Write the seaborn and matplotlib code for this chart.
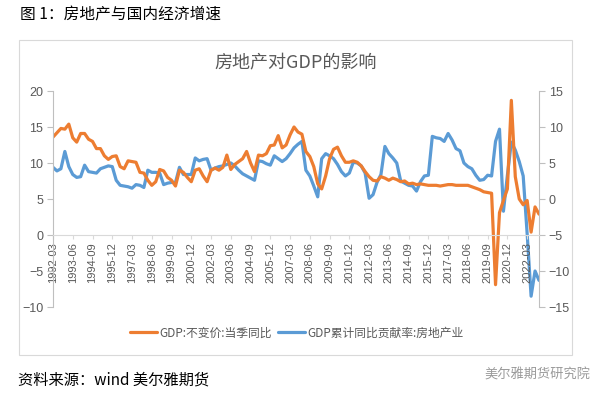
import matplotlib
matplotlib.use("Agg")
import matplotlib.pyplot as plt
from matplotlib.lines import Line2D
from matplotlib.patches import Rectangle
import seaborn as sns
import pandas as pd

# quarters 1992-03 .. 2022-12
quarters = [str(p.end_time.strftime("%Y-%m")) for p in pd.period_range("1992Q1", "2022Q4", freq="Q")]

# GDP:不变价:当季同比 (left axis, %)
gdp_yoy = [
    13.6, 14.2, 14.8, 14.7, 15.4, 13.5, 12.9, 14.1,   # 1992-1993
    14.1, 13.3, 13.0, 12.0, 12.0, 11.0, 10.5, 10.9,   # 1994-1995
    11.0, 9.5, 9.2, 10.3, 10.2, 10.1, 8.7, 8.6,       # 1996-1997
    7.6, 6.9, 7.4, 9.1, 8.9, 8.0, 7.6, 6.8,           # 1998-1999
    9.0, 8.7, 8.0, 7.4, 9.0, 9.2, 8.2, 7.4,           # 2000-2001
    9.0, 9.3, 9.0, 9.4, 11.1, 9.1, 9.8, 10.2,         # 2002-2003
    10.6, 11.6, 10.0, 8.8, 11.1, 11.0, 11.3, 12.4,    # 2004-2005
    12.5, 13.8, 12.1, 12.5, 13.9, 15.0, 14.3, 14.0,   # 2006-2007
    11.6, 10.9, 9.5, 7.1, 6.4, 8.2, 10.6, 11.9,       # 2008-2009
    12.2, 11.0, 10.1, 10.1, 10.3, 10.1, 9.6, 8.8,     # 2010-2011
    8.1, 7.6, 7.5, 8.1, 7.9, 7.6, 7.9, 7.7,           # 2012-2013
    7.4, 7.5, 7.1, 7.2, 7.0, 7.1, 7.0, 6.9,           # 2014-2015
    6.9, 6.9, 6.8, 6.9, 7.0, 7.0, 6.9, 6.9,           # 2016-2017
    6.9, 6.9, 6.7, 6.5, 6.3, 6.0, 5.9, 5.8,           # 2018-2019
    -6.9, 3.1, 4.8, 6.4, 18.7, 8.1, 5.0, 4.2,         # 2020-2021
    4.8, 0.4, 3.9, 2.9,                               # 2022
]

# GDP累计同比贡献率:房地产业 (right axis, %)
re_contrib = [
    4.4, 3.9, 4.2, 6.6, 4.5, 3.4, 3.0, 3.1,
    4.7, 3.8, 3.7, 3.6, 4.2, 4.4, 4.6, 4.5,
    2.6, 1.9, 1.8, 1.7, 1.5, 2.0, 1.9, 1.6,
    4.0, 3.7, 3.7, 3.6, 2.0, 2.2, 2.3, 2.3,
    4.4, 3.4, 3.4, 3.4, 5.7, 5.3, 5.5, 5.6,
    4.0, 4.3, 4.5, 4.6, 4.8, 5.0, 4.6, 4.0,
    3.5, 3.2, 2.9, 2.6, 5.3, 5.2, 4.9, 4.7,
    6.0, 5.6, 5.2, 5.6, 6.3, 7.1, 7.6, 8.0,
    4.0, 3.2, 1.8, 0.3, 5.6, 6.3, 6.0, 5.6,
    4.8, 3.8, 3.2, 3.6, 5.1, 5.0, 4.6, 3.6,
    0.1, 0.6, 2.3, 3.4, 7.3, 6.3, 5.7, 5.0,
    2.5, 2.2, 1.9, 1.8, 1.1, 2.4, 3.2, 3.3,
    8.7, 8.5, 8.4, 8.0, 9.1, 8.2, 7.0, 6.7,
    5.0, 4.5, 4.2, 3.3, 2.6, 2.7, 3.3, 3.2,
    8.0, 9.7, -1.7, 3.3, 7.9, 6.8, 5.2, 3.2,
    -4.8, -13.5, -10.0, -11.3,
]

label_gdp = "GDP:不变价:当季同比"
label_re = "GDP累计同比贡献率:房地产业"
c_orange = "#ED7D31"
c_blue = "#5B9BD5"
c_axis = "#BFBFBF"
c_text = "#595959"

sns.set_style("white")
plt.rcParams["font.family"] = ["Noto Sans CJK SC", "DejaVu Sans"]

df = pd.DataFrame({"q": range(len(quarters)), "gdp": gdp_yoy, "re": re_contrib})

fig = plt.figure(figsize=(5.98, 3.99), dpi=100)

# outer chart frame
fig.patches.append(Rectangle((19 / 598, 1 - 355 / 399), (572 - 19) / 598, (355 - 40) / 399,
                             transform=fig.transFigure, fill=False, edgecolor="#D9D9D9", lw=0.8))

ax = fig.add_axes([53 / 598, 1 - 307 / 399, (539 - 53) / 598, (307 - 91) / 399])
ax2 = ax.twinx()

sns.lineplot(data=df, x="q", y="re", ax=ax2, color=c_blue, lw=2.3)
sns.lineplot(data=df, x="q", y="gdp", ax=ax, color=c_orange, lw=2.3)
ax.set_zorder(ax2.get_zorder() + 1)
ax.patch.set_visible(False)

ax.set_xlim(0, len(quarters) - 1)
ax.set_ylim(-10, 20)
ax2.set_ylim(-15, 15)
ax.set_yticks([-10, -5, 0, 5, 10, 15, 20])
ax2.set_yticks([-15, -10, -5, 0, 5, 10, 15])

for a in (ax, ax2):
    for s in a.spines.values():
        s.set_visible(False)
    a.grid(False)
    a.set_xlabel("")
    a.set_ylabel("")

tick_pos = list(range(0, len(quarters), 5))
ax.set_xticks(tick_pos)
ax.set_xticklabels([quarters[i] for i in tick_pos])
ax2.tick_params(axis="x", bottom=False, labelbottom=False, top=False, labeltop=False)

ax.spines["left"].set_visible(True)
ax.spines["left"].set_color(c_axis)
ax.spines["bottom"].set_visible(True)
ax.spines["bottom"].set_position(("data", 0))
ax.spines["bottom"].set_color("#D9D9D9")
ax2.spines["right"].set_visible(True)
ax2.spines["right"].set_color(c_axis)

ax.tick_params(axis="y", direction="out", length=4, color=c_axis, labelcolor=c_text,
               labelsize=9, pad=3, left=True)
ax.tick_params(axis="x", direction="out", length=3, color="#D9D9D9", pad=2, bottom=True,
               labelrotation=90, labelsize=8, labelcolor=c_text)
ax2.tick_params(axis="y", direction="out", length=4, color=c_axis, labelcolor=c_text,
                labelsize=9, pad=3, right=True)
for t in ax.get_yticklabels() + ax2.get_yticklabels() + ax.get_xticklabels():
    t.set_family("Liberation Sans")

# titles and notes
fig.text(20 / 598, 1 - 15 / 399, "图 1：房地产与国内经济增速", fontsize=11.3,
         va="center", ha="left", color="black")
fig.text(296 / 598, 1 - 62 / 399, "房地产对GDP的影响", fontsize=13,
         va="center", ha="center", color=c_text)
fig.text(18 / 598, 1 - 380 / 399, "资料来源：wind 美尔雅期货", fontsize=11,
         va="center", ha="left", color="black")
fig.text(590 / 598, 1 - 375 / 399, "美尔雅期货研究院", fontsize=9.5,
         va="center", ha="right", color="#9A9A9A")

handles = [Line2D([0], [0], color=c_orange, lw=2.3), Line2D([0], [0], color=c_blue, lw=2.3)]
fig.legend(handles, [label_gdp, label_re], loc="center", bbox_to_anchor=(297 / 598, 1 - 333 / 399),
           ncol=2, frameon=False, fontsize=8.5, handlelength=2.3, handletextpad=0.2,
           columnspacing=0.5, labelcolor=c_text)

fig.savefig("out.png", dpi=100)
